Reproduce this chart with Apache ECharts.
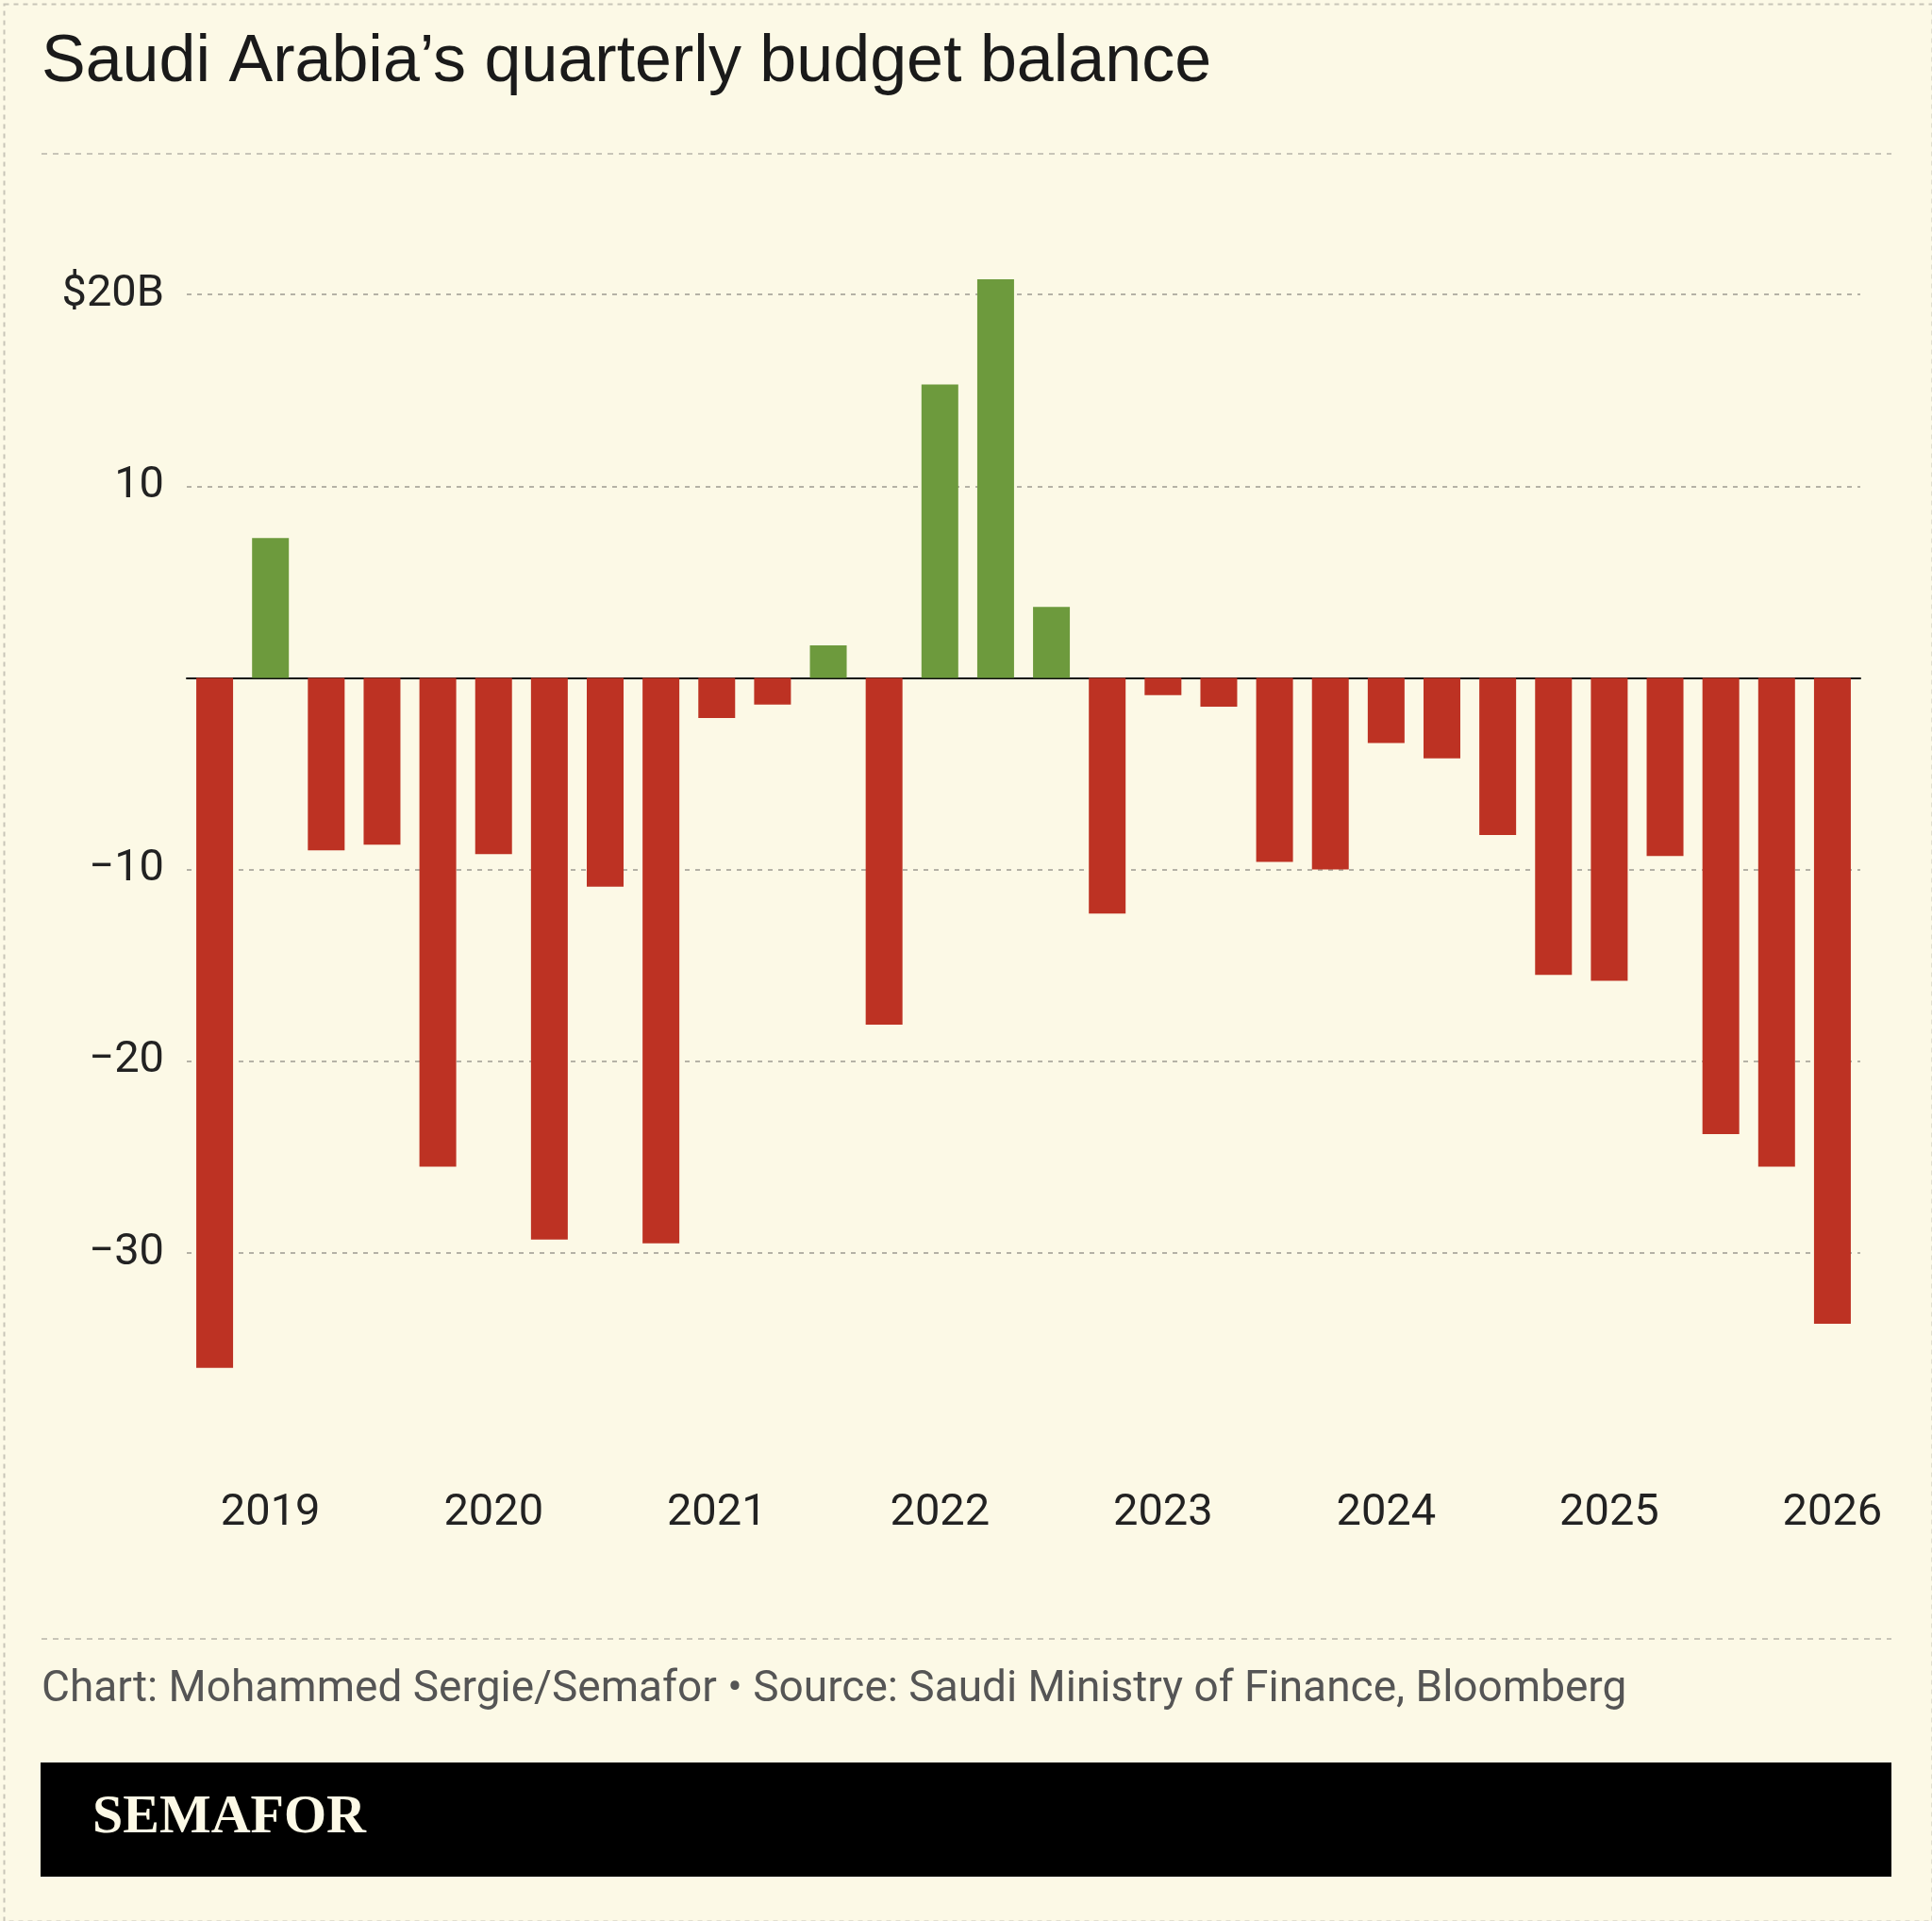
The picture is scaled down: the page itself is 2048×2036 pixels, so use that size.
<!DOCTYPE html>
<html lang="en">
<head>
<meta charset="UTF-8">
<script src="https://cdn.jsdelivr.net/npm/echarts@6/dist/echarts.min.js"></script>
<title>Saudi budget balance</title>
<style>html,body{margin:0;padding:0;background:#fcf9e6}</style>
</head>
<body>
<div id="main" style="width:2048px;height:2036px"></div>
<script>
// quarterly budget balance, $B
var quarters = ['','2019','','','','2020','','','','2021','','','','2022','','','','2023','','','','2024','','','','2025','','','','2026'];
var balance = [-36.0, 7.3, -9.0, -8.7, -25.5, -9.2, -29.3, -10.9, -29.5, -2.1, -1.4, 1.7, -18.1, 15.3, 20.8, 3.7,
               -12.3, -0.9, -1.5, -9.6, -10.0, -3.4, -4.2, -8.2, -15.5, -15.8, -9.3, -23.8, -25.5, -33.7];
var gridValues = [20, 10, -10, -20, -30];

var chart = echarts.init(document.getElementById('main'));
var font = 'Roboto, "Noto Sans", sans-serif';
chart.setOption({
    backgroundColor: '#fcf9e6',
    animation: false,
    grid: {left: 198, right: 76, top: 109, height: 1422},
    xAxis: {
        type: 'category',
        data: quarters,
        axisLine: {onZero: true, lineStyle: {color: '#111', width: 2}},
        axisTick: {show: false},
        axisLabel: {interval: 0, margin: 50, fontSize: 47, color: '#222', fontFamily: font}
    },
    yAxis: {
        type: 'value', min: -40, max: 30, interval: 10,
        axisLine: {show: false}, axisTick: {show: false},
        axisLabel: {
            margin: 24, fontSize: 47, color: '#222', fontFamily: font,
            formatter: function (v) {
                if (v === 30 || v === -40 || v === 0) return '';
                return v === 20 ? '$20B' : (v < 0 ? '\u2212' + (-v) : String(v));
            }
        },
        splitLine: {show: false}
    },
    series: [{
        type: 'bar',
        barWidth: 39,
        z: 3,
        data: balance.map(function (v) {
            return {value: v, itemStyle: {color: v >= 0 ? '#6d9a3d' : '#bd3223'}};
        }),
        markLine: {
            silent: true, symbol: 'none', label: {show: false}, z: 1,
            lineStyle: {color: '#b5b2a6', type: [5, 6], width: 2},
            data: gridValues.map(function (v) { return {yAxis: v}; })
        }
    }],
    graphic: [
        {type: 'rect', left: 2, top: 2, shape: {width: 2044, height: 2032},
         style: {fill: null, stroke: '#c8c5b8', lineWidth: 2, lineDash: [5, 5]}},
        {type: 'text', left: 44, top: 32, style: {text: 'Saudi Arabia\u2019s quarterly budget balance', fontSize: 70, fontFamily: '"Liberation Sans", Arial, sans-serif', fill: '#1a1a1a'}},
        {type: 'line', shape: {x1: 44, y1: 163, x2: 2005, y2: 163}, style: {stroke: '#c8c5b8', lineWidth: 2, lineDash: [6, 6]}},
        {type: 'line', shape: {x1: 44, y1: 1737, x2: 2005, y2: 1737}, style: {stroke: '#c8c5b8', lineWidth: 2, lineDash: [6, 6]}},
        {type: 'text', left: 44, top: 1768, style: {text: 'Chart: Mohammed Sergie/Semafor \u2022 Source: Saudi Ministry of Finance, Bloomberg', fontSize: 46, fontFamily: font, fill: '#555'}},
        {type: 'rect', left: 43, top: 1868, shape: {width: 1962, height: 121}, style: {fill: '#000'}},
        {type: 'text', left: 98, top: 1898, style: {text: 'SEMAFOR', fontSize: 58, fontWeight: 'bold', fontFamily: '"Liberation Serif", "DejaVu Serif", serif', fill: '#fcf9e6'}}
    ]
});
</script>
</body>
</html>
